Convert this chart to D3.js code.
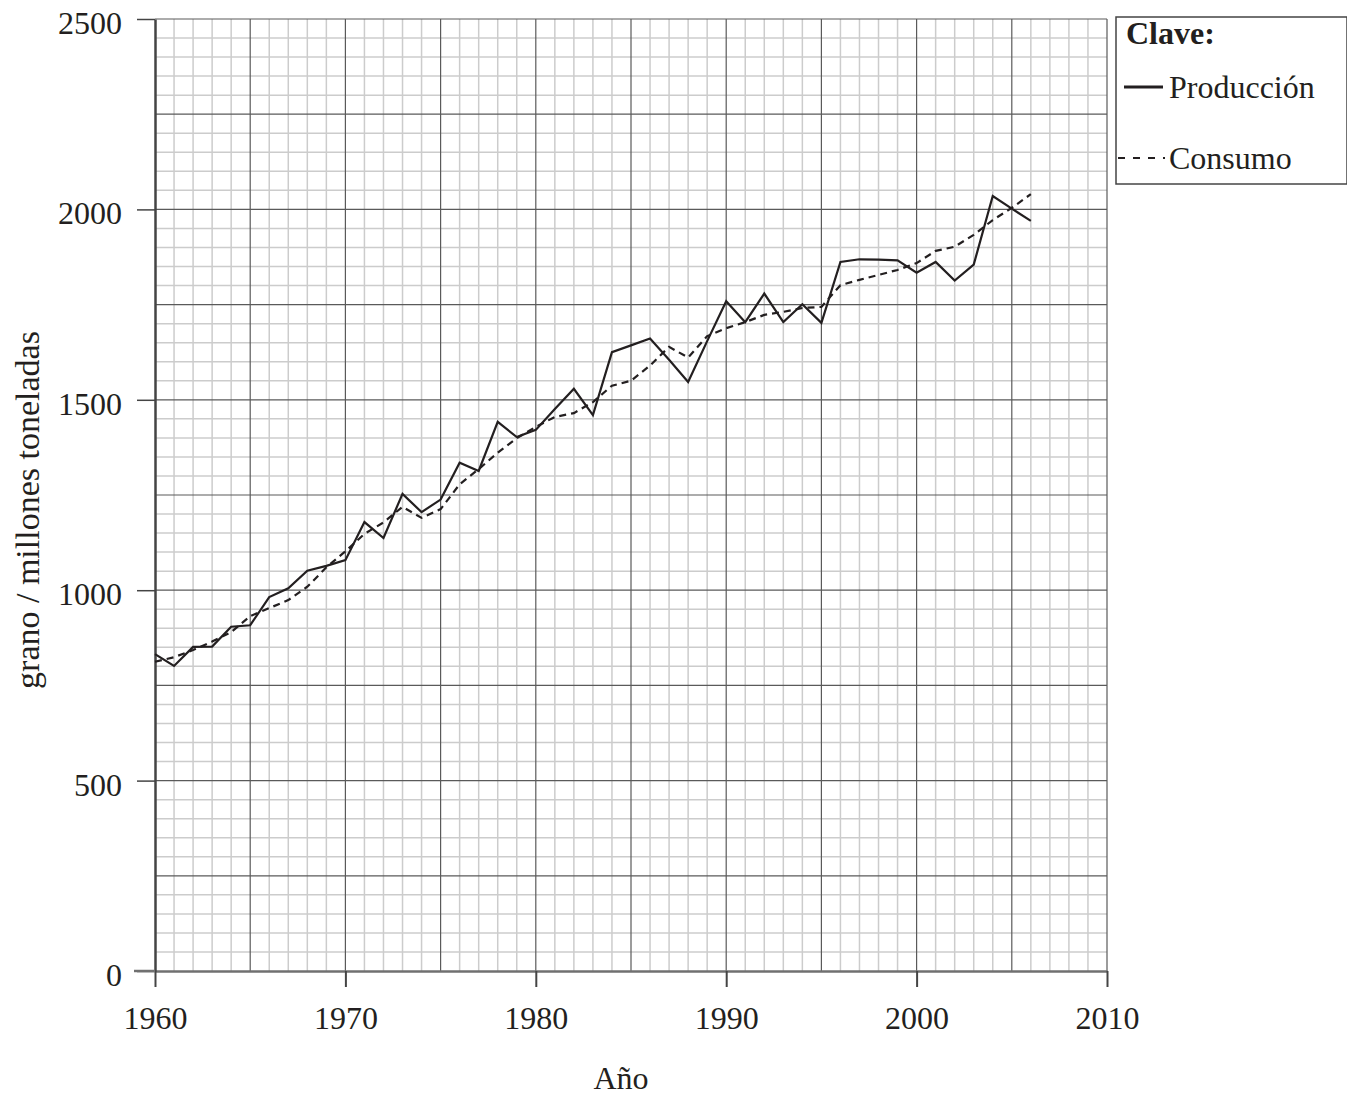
<!DOCTYPE html>
<html>
<head>
<meta charset="utf-8">
<script src="https://cdn.jsdelivr.net/npm/d3@7"></script>
<style>
  body { margin: 0; background: #fff; }
  text { font-family: "Liberation Serif", "Times New Roman", serif; fill: #231f20; }
</style>
</head>
<body>
<svg id="chart" width="1347" height="1096"></svg>
<script>
// years 1960..2006
const years = d3.range(1960, 2007);
// grain production, million tonnes
const production = [832, 801, 851, 852, 904, 908, 982, 1005, 1051, 1064,
    1079, 1179, 1137, 1253, 1205, 1238, 1335, 1313, 1442, 1402,
    1421, 1476, 1529, 1460, 1625, 1643, 1661, 1605, 1547, 1654,
    1759, 1704, 1779, 1704, 1751, 1702, 1862, 1869, 1868, 1866,
    1834, 1862, 1813, 1855, 2035, 2002, 1970];
// grain consumption, million tonnes
const consumption = [812, 824, 843, 865, 890, 932, 953, 974, 1009, 1060,
    1102, 1148, 1178, 1219, 1190, 1213, 1278, 1318, 1361, 1399,
    1429, 1455, 1465, 1494, 1537, 1550, 1590, 1639, 1611, 1667,
    1688, 1704, 1723, 1731, 1741, 1744, 1801, 1815, 1828, 1841,
    1859, 1891, 1902, 1933, 1972, 2004, 2040];
const xTicks = [1960, 1970, 1980, 1990, 2000, 2010];
const yTicks = [0, 500, 1000, 1500, 2000, 2500];

const svg = d3.select("#chart");
const mLeft = 155, mTop = 19, w = 952, h = 952;
const fs = 32;

const x = d3.scaleLinear().domain([1960, 2010]).range([mLeft, mLeft + w]);
const y = d3.scaleLinear().domain([0, 2500]).range([mTop + h, mTop]);

// graph paper: minor lines every year / 50, major every 5 years / 250
const grid = svg.append("g");
const minorX = d3.range(1960, 2011).filter(d => d % 5 !== 0);
const minorY = d3.range(0, 2501, 50).filter(d => d % 250 !== 0);
grid.selectAll(".mx").data(minorX).enter().append("line")
    .attr("x1", d => x(d)).attr("x2", d => x(d))
    .attr("y1", mTop).attr("y2", mTop + h)
    .attr("stroke", "#cccccc").attr("stroke-width", 1.5);
grid.selectAll(".my").data(minorY).enter().append("line")
    .attr("x1", mLeft).attr("x2", mLeft + w)
    .attr("y1", d => y(d)).attr("y2", d => y(d))
    .attr("stroke", "#cccccc").attr("stroke-width", 1.5);
grid.selectAll(".MX").data(d3.range(1965, 2011, 5)).enter().append("line")
    .attr("x1", d => x(d)).attr("x2", d => x(d))
    .attr("y1", mTop).attr("y2", mTop + h)
    .attr("stroke", "#5a5a5a").attr("stroke-width", 1.2);
grid.selectAll(".MY").data(d3.range(250, 2501, 250)).enter().append("line")
    .attr("x1", mLeft).attr("x2", mLeft + w)
    .attr("y1", d => y(d)).attr("y2", d => y(d))
    .attr("stroke", "#5a5a5a").attr("stroke-width", 1.2);

// axes
const xAxis = svg.append("g")
    .attr("transform", `translate(0,${mTop + h})`)
    .call(d3.axisBottom(x).tickValues(xTicks).tickFormat(d3.format("d"))
        .tickSizeInner(16).tickSizeOuter(0).tickPadding(19));
xAxis.select(".domain").attr("stroke", "#707070").attr("stroke-width", 2.5);
xAxis.selectAll(".tick line").attr("stroke", "#444").attr("stroke-width", 2);
xAxis.selectAll("text").attr("font-size", fs).attr("font-family", "Liberation Serif").attr("fill", "#231f20");

const yAxis = svg.append("g")
    .attr("transform", `translate(${mLeft},0)`)
    .call(d3.axisLeft(y).tickValues(yTicks).tickFormat(d3.format("d"))
        .tickSizeInner(18).tickSizeOuter(0).tickPadding(15));
yAxis.select(".domain").attr("stroke", "#444").attr("stroke-width", 2.5);
yAxis.selectAll(".tick line").attr("stroke", "#444").attr("stroke-width", 1.5);
yAxis.selectAll("text").attr("font-size", fs).attr("dy", "0.45em")
    .attr("font-family", "Liberation Serif").attr("fill", "#231f20");
// extend baseline leftwards like the original
svg.append("line").attr("x1", mLeft - 21).attr("x2", mLeft).attr("y1", y(0)).attr("y2", y(0))
    .attr("stroke", "#707070").attr("stroke-width", 2.5);

// series
const line = d3.line().x((d, i) => x(years[i])).y(d => y(d));
svg.append("path").datum(consumption).attr("d", line)
    .attr("fill", "none").attr("stroke", "#231f20").attr("stroke-width", 2.2)
    .attr("stroke-dasharray", "7,5");
svg.append("path").datum(production).attr("d", line)
    .attr("fill", "none").attr("stroke", "#231f20").attr("stroke-width", 2.2)
    .attr("stroke-linejoin", "miter");

// axis titles
svg.append("text").attr("x", 621).attr("y", 1089).attr("text-anchor", "middle")
    .attr("font-size", fs).text("Año");
svg.append("text").attr("transform", "translate(39,510) rotate(-90)")
    .attr("text-anchor", "middle").attr("font-size", 34).text("grano / millones toneladas");

// legend
const key = svg.append("g");
key.append("rect").attr("x", 1116).attr("y", 17).attr("width", 231).attr("height", 167)
    .attr("fill", "#fff").attr("stroke", "#444").attr("stroke-width", 1.5);
key.append("text").attr("x", 1126).attr("y", 44).attr("font-size", fs)
    .attr("font-weight", "bold").text("Clave:");
key.append("line").attr("x1", 1124).attr("x2", 1163).attr("y1", 87).attr("y2", 87)
    .attr("stroke", "#231f20").attr("stroke-width", 2.8);
key.append("text").attr("x", 1169).attr("y", 98).attr("font-size", fs).text("Producción");
key.append("line").attr("x1", 1118).attr("x2", 1165).attr("y1", 158).attr("y2", 158)
    .attr("stroke", "#231f20").attr("stroke-width", 2.2).attr("stroke-dasharray", "7,8");
key.append("text").attr("x", 1169).attr("y", 169).attr("font-size", fs).text("Consumo");
</script>
</body>
</html>
